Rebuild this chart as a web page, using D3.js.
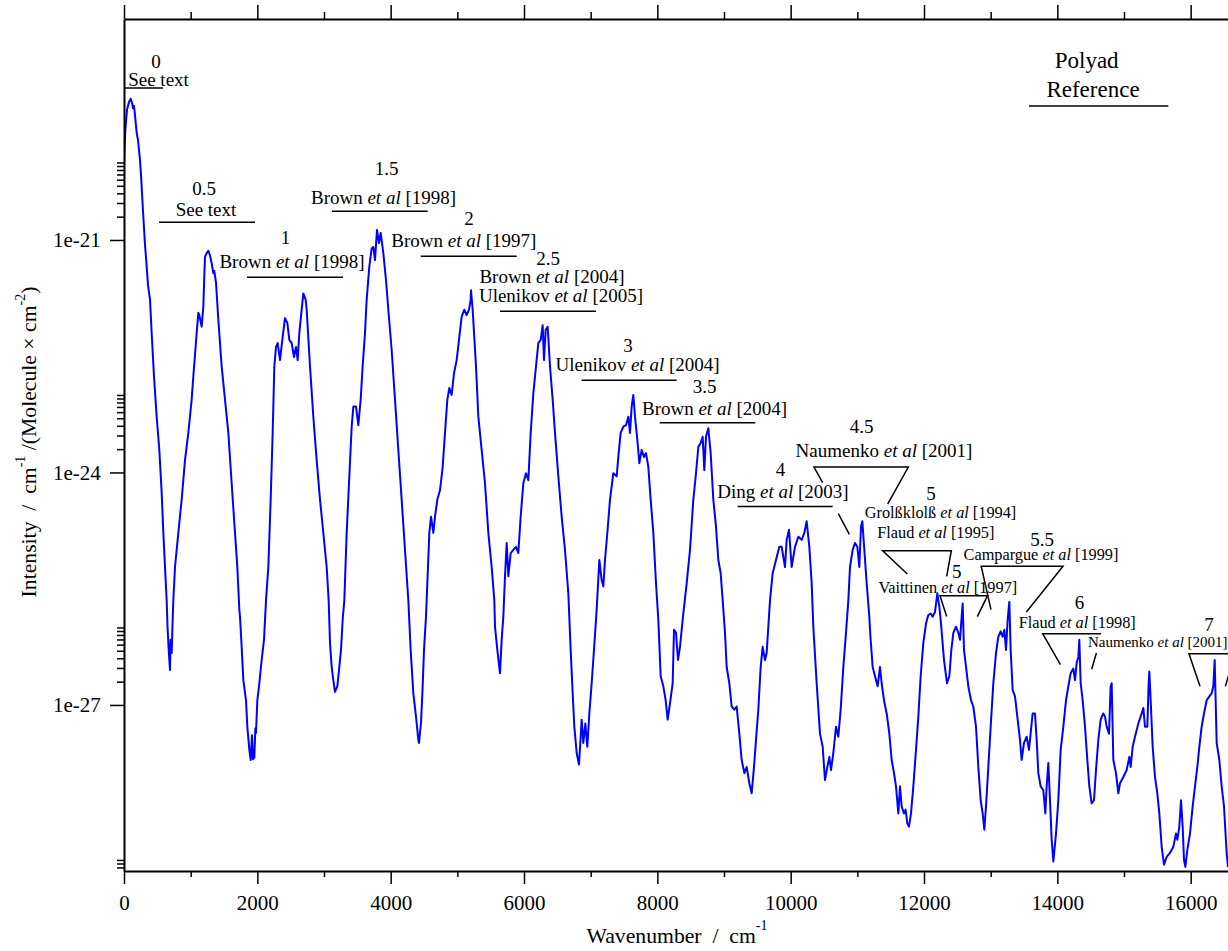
<!DOCTYPE html>
<html>
<head>
<meta charset="utf-8">
<script src="https://cdn.jsdelivr.net/npm/d3@7"></script>
<style>
  html, body { margin: 0; padding: 0; background: #fff; }
  svg { display: block; font-family: "Liberation Serif", "Times New Roman", Times, serif; }
  text { white-space: pre; }
</style>
</head>
<body>
<svg id="chart" width="1228" height="951"></svg>
<script>
// Absorption spectrum: [wavenumber (cm^-1), log10 intensity]
const spectrumPoints = [
  [0,-20.03],[20,-19.58],[45,-19.32],[75,-19.22],[100,-19.18],[120,-19.23],[135,-19.30],[150,-19.27],[165,-19.39],[190,-19.62],
  [210,-19.71],[240,-19.97],[255,-20.16],[290,-20.70],[315,-21.06],[340,-21.34],[360,-21.58],[390,-21.77],[415,-22.20],[450,-22.76],
  [490,-23.28],[530,-23.71],[565,-24.26],[590,-24.78],[615,-25.22],[640,-25.65],[653,-25.99],[665,-26.20],[675,-26.35],[690,-26.55],
  [698,-26.16],[715,-26.33],[730,-25.90],[740,-25.65],[765,-25.22],[815,-24.78],[865,-24.35],[915,-23.84],[965,-23.49],[1015,-23.06],
  [1040,-22.76],[1090,-22.20],[1115,-21.94],[1130,-21.97],[1165,-22.12],[1190,-21.86],[1205,-21.45],[1215,-21.22],[1240,-21.17],[1265,-21.14],
  [1290,-21.20],[1315,-21.30],[1340,-21.43],[1355,-21.40],[1380,-21.55],[1415,-22.03],[1465,-22.63],[1515,-23.06],[1565,-23.49],[1615,-24.14],
  [1665,-24.78],[1700,-25.22],[1730,-25.77],[1740,-25.86],[1765,-26.25],[1790,-26.68],[1830,-26.94],[1850,-27.28],[1880,-27.58],[1900,-27.71],
  [1920,-27.39],[1935,-27.70],[1955,-27.68],[1970,-27.30],[1980,-27.36],[2000,-26.94],[2030,-26.72],[2065,-26.42],[2100,-26.16],[2130,-25.65],
  [2165,-25.22],[2200,-24.35],[2230,-23.49],[2255,-22.63],[2280,-22.38],[2305,-22.33],[2340,-22.55],[2380,-22.25],[2415,-22.01],[2450,-22.07],
  [2480,-22.29],[2515,-22.33],[2550,-22.51],[2580,-22.38],[2605,-22.55],[2630,-22.20],[2665,-21.90],[2690,-21.69],[2725,-21.77],[2740,-21.90],
  [2790,-22.63],[2840,-23.28],[2890,-23.84],[2940,-24.35],[2990,-24.78],[3040,-25.22],[3070,-25.65],[3090,-26.20],[3115,-26.51],[3140,-26.68],
  [3165,-26.83],[3200,-26.76],[3230,-26.51],[3255,-26.29],[3280,-25.90],[3305,-25.65],[3340,-24.78],[3375,-24.14],[3415,-23.41],[3440,-23.15],
  [3480,-23.15],[3515,-23.39],[3550,-23.06],[3580,-22.63],[3615,-22.20],[3640,-21.77],[3680,-21.34],[3715,-21.11],[3740,-21.09],[3765,-21.26],
  [3795,-20.87],[3825,-21.04],[3850,-20.91],[3890,-21.17],[3930,-21.52],[3965,-21.90],[4015,-22.42],[4065,-23.06],[4115,-23.71],[4165,-24.35],
  [4215,-25.00],[4265,-25.65],[4300,-26.29],[4340,-26.85],[4380,-27.15],[4415,-27.45],[4425,-27.49],[4455,-27.23],[4480,-26.76],[4500,-26.29],
  [4530,-25.86],[4580,-24.78],[4605,-24.57],[4640,-24.78],[4665,-24.57],[4700,-24.35],[4740,-24.23],[4780,-23.93],[4815,-23.49],[4850,-23.06],
  [4880,-22.91],[4915,-23.00],[4950,-22.72],[4990,-22.55],[5025,-22.29],[5065,-21.99],[5105,-21.90],[5140,-21.97],[5175,-21.90],[5200,-21.77],
  [5205,-21.65],[5230,-21.90],[5280,-22.63],[5315,-23.28],[5365,-23.71],[5415,-24.14],[5465,-24.78],[5515,-25.22],[5555,-25.65],[5565,-25.99],
  [5600,-26.29],[5640,-26.59],[5665,-26.16],[5690,-25.86],[5715,-25.34],[5740,-24.91],[5765,-25.34],[5800,-25.04],[5840,-25.00],[5880,-24.96],
  [5915,-25.04],[5950,-24.57],[5990,-24.14],[6030,-24.01],[6065,-24.10],[6100,-23.49],[6140,-22.98],[6180,-22.63],[6215,-22.33],[6250,-22.29],
  [6280,-22.10],[6300,-22.55],[6325,-22.16],[6355,-22.12],[6390,-22.63],[6430,-23.06],[6465,-23.49],[6515,-24.05],[6565,-24.57],[6615,-25.00],
  [6665,-25.56],[6700,-26.29],[6730,-26.85],[6755,-27.28],[6790,-27.62],[6825,-27.77],[6865,-27.19],[6890,-27.49],[6920,-27.24],[6950,-27.54],
  [6980,-27.11],[7015,-26.72],[7050,-26.29],[7090,-25.77],[7130,-25.13],[7165,-25.39],[7190,-25.47],[7215,-25.13],[7250,-24.78],[7290,-24.35],
  [7340,-24.01],[7390,-24.05],[7415,-23.80],[7450,-23.49],[7490,-23.41],[7530,-23.39],[7565,-23.28],[7590,-23.49],[7615,-23.15],[7640,-23.00],
  [7665,-23.28],[7700,-23.58],[7730,-23.88],[7765,-23.71],[7800,-23.80],[7830,-23.75],[7865,-23.93],[7900,-24.35],[7940,-24.78],[7980,-25.43],
  [8015,-25.90],[8050,-26.63],[8090,-26.76],[8125,-26.94],[8155,-27.19],[8190,-26.98],[8230,-26.72],[8250,-26.03],[8280,-26.07],[8310,-26.42],
  [8340,-26.25],[8380,-25.90],[8440,-25.43],[8490,-25.00],[8540,-24.35],[8580,-24.01],[8615,-23.67],[8650,-23.62],[8680,-23.54],[8705,-23.97],
  [8730,-23.54],[8765,-23.43],[8800,-23.75],[8840,-24.35],[8880,-24.70],[8915,-25.13],[8950,-25.30],[8980,-25.65],[9015,-26.07],[9040,-26.51],
  [9080,-26.72],[9115,-27.02],[9155,-27.06],[9190,-27.02],[9230,-27.37],[9265,-27.71],[9305,-27.88],[9340,-27.80],[9380,-28.01],[9415,-28.14],
  [9450,-27.80],[9480,-27.45],[9515,-27.06],[9550,-26.51],[9580,-26.25],[9615,-26.42],[9640,-26.33],[9665,-25.99],[9690,-25.65],[9730,-25.30],
  [9780,-25.13],[9830,-24.96],[9865,-24.96],[9915,-25.22],[9940,-24.87],[9975,-24.74],[10015,-25.22],[10065,-24.96],[10115,-24.83],[10165,-24.87],
  [10205,-24.78],[10240,-24.63],[10280,-24.96],[10315,-25.43],[10340,-25.99],[10390,-26.72],[10440,-27.37],[10480,-27.54],[10515,-27.97],[10550,-27.80],
  [10580,-27.67],[10605,-27.84],[10640,-27.62],[10680,-27.28],[10715,-27.41],[10750,-27.06],[10790,-26.51],[10830,-26.07],[10865,-25.65],[10890,-25.22],
  [10930,-25.00],[10965,-24.91],[11000,-24.96],[11030,-25.22],[11055,-24.70],[11075,-24.63],[11105,-25.00],[11140,-25.43],[11180,-25.86],[11195,-26.10],
  [11230,-26.51],[11265,-26.63],[11305,-26.76],[11340,-26.51],[11365,-26.72],[11400,-26.94],[11440,-27.11],[11480,-27.37],[11515,-27.71],[11550,-27.88],
  [11580,-28.05],[11615,-28.40],[11640,-28.05],[11665,-28.31],[11700,-28.40],[11725,-28.35],[11750,-28.53],[11775,-28.57],[11805,-28.40],[11840,-28.05],
  [11880,-27.58],[11915,-27.15],[11950,-26.63],[11990,-26.20],[12030,-25.95],[12065,-25.84],[12100,-25.82],[12130,-25.86],[12165,-25.80],[12200,-25.56],
  [12230,-25.73],[12255,-25.95],[12300,-26.42],[12345,-26.72],[12380,-26.63],[12410,-26.29],[12440,-26.07],[12480,-25.99],[12515,-26.07],[12540,-26.16],
  [12565,-25.86],[12580,-25.69],[12600,-26.29],[12630,-26.51],[12665,-26.76],[12705,-26.94],[12740,-27.02],[12780,-27.28],[12815,-27.80],[12850,-28.23],
  [12880,-28.40],[12905,-28.61],[12930,-28.31],[12965,-27.80],[13000,-27.28],[13040,-26.72],[13080,-26.33],[13115,-26.12],[13150,-26.05],[13180,-26.12],
  [13205,-26.03],[13230,-26.29],[13255,-25.90],[13280,-25.67],[13300,-26.29],[13330,-26.81],[13365,-26.89],[13400,-27.15],[13440,-27.45],[13465,-27.71],
  [13500,-27.49],[13540,-27.41],[13575,-27.58],[13605,-27.32],[13630,-27.11],[13665,-27.11],[13690,-27.45],[13715,-27.88],[13750,-28.05],[13790,-28.10],
  [13820,-28.40],[13840,-28.05],[13865,-27.75],[13890,-28.23],[13915,-28.74],[13940,-29.02],[13980,-28.66],[14015,-28.23],[14050,-27.58],[14090,-27.28],
  [14130,-26.94],[14165,-26.76],[14200,-26.59],[14240,-26.53],[14265,-26.68],[14290,-26.46],[14315,-26.38],[14330,-26.16],[14350,-26.72],[14380,-26.94],
  [14415,-27.28],[14450,-27.71],[14480,-28.05],[14515,-28.27],[14550,-28.23],[14580,-27.84],[14615,-27.45],[14650,-27.19],[14690,-27.11],[14715,-27.15],
  [14740,-27.28],[14775,-27.37],[14800,-26.76],[14815,-26.72],[14840,-27.71],[14880,-27.88],[14915,-28.14],[14940,-28.01],[14990,-27.93],[15040,-27.84],
  [15080,-27.67],[15100,-27.80],[15130,-27.54],[15165,-27.41],[15215,-27.24],[15265,-27.11],[15290,-27.04],[15315,-27.28],[15350,-27.28],[15370,-26.72],
  [15380,-26.57],[15400,-26.94],[15430,-27.54],[15465,-27.93],[15500,-28.14],[15530,-28.40],[15565,-28.83],[15600,-29.06],[15640,-28.96],[15690,-28.91],
  [15740,-28.83],[15780,-28.66],[15800,-28.74],[15830,-28.57],[15855,-28.23],[15880,-28.57],[15900,-29.00],[15920,-29.09],[15950,-28.87],[15990,-28.66],
  [16030,-28.31],[16065,-28.05],[16100,-27.80],[16130,-27.54],[16165,-27.28],[16200,-27.11],[16240,-26.94],[16280,-26.89],[16315,-26.85],[16340,-26.76],
  [16360,-26.42],[16390,-27.49],[16430,-27.71],[16465,-28.05],[16500,-28.31],[16540,-28.91],[16560,-29.09]
];

// Axis ticks
const xMajorTicks = [0, 2000, 4000, 6000, 8000, 10000, 12000, 14000, 16000];
const xMinorTicks = [1000, 3000, 5000, 7000, 9000, 11000, 13000, 15000];
const yMajorTicks = [1e-21, 1e-24, 1e-27];
const yMinorDecades = [-21, -24, -27, -30];
const yMinorMultipliers = [2, 3, 4, 5, 6, 7, 8, 9, 10];

// Polyad wavenumber ranges (cm^-1) and the log10 intensity level each bar sits at
const polyadRanges = [
  { polyad: "0",   from: 0,    to: 585,   level: -19.04 },
  { polyad: "0.5", from: 525,  to: 1965,  level: -20.77 },
  { polyad: "1",   from: 1845, to: 3285,  level: -21.48 },
  { polyad: "1.5", from: 3120, to: 4555,  level: -20.63 },
  { polyad: "2",   from: 4450, to: 5890,  level: -21.21 },
  { polyad: "2.5", from: 5640, to: 7080,  level: -21.92 },
  { polyad: "3",   from: 6865, to: 8290,  level: -22.81 },
  { polyad: "3.5", from: 8035, to: 9470,  level: -23.36 },
  { polyad: "4",   from: 9205, to: 10630, level: -24.44 },
  { polyad: "key", from: 13575, to: 15665, level: -19.27 }
];

// Bracket pointers for the crowded high-wavenumber polyads: [wavenumber, log10 intensity]
const bracketPaths = [
  [[10480, -24.13], [10350, -23.93], [11765, -23.93], [11455, -24.41]],
  [[10715, -24.53], [10880, -24.80]],
  [[11750, -25.31], [11380, -25.01], [12410, -25.01], [12340, -25.34]],
  [[12340, -25.86], [12240, -25.59], [12953, -25.59], [12800, -25.86]],
  [[13005, -25.77], [12858, -25.21], [14085, -25.21], [13536, -25.80]],
  [[14046, -26.48], [13780, -26.08], [14655, -26.08]],
  [[14586, -26.33], [14515, -26.54]],
  [[16140, -26.76], [15975, -26.34], [16665, -26.34], [16520, -26.76]]
];

// Polyad numbers and references (*...* marks italic); anchored at [wavenumber, log10 intensity]
const polyadLabels = [
  { text: "0",   w: 480,   level: -18.78 },
  { text: "0.5", w: 1200,  level: -20.42 },
  { text: "1",   w: 2423,  level: -21.05 },
  { text: "1.5", w: 3938,  level: -20.16 },
  { text: "2",   w: 5175,  level: -20.81 },
  { text: "2.5", w: 6360,  level: -21.32 },
  { text: "3",   w: 7560,  level: -22.44 },
  { text: "3.5", w: 8711,  level: -22.97 },
  { text: "4",   w: 9848,  level: -24.05 },
  { text: "4.5", w: 11066, level: -23.49 },
  { text: "5",   w: 12105, level: -24.35 },
  { text: "5",   w: 12492, level: -25.36 },
  { text: "5.5", w: 13770, level: -24.95 },
  { text: "6",   w: 14333, level: -25.76 },
  { text: "7",   w: 16275, level: -26.05 }
];

const referenceLabels = [
  { text: "See text",                  w: 518,   level: -19.01, kind: "ref" },
  { text: "See text",                  w: 1230,  level: -20.69, kind: "ref" },
  { text: "Brown *et al* [1998]",      w: 2520,  level: -21.36, kind: "ref" },
  { text: "Brown *et al* [1998]",      w: 3893,  level: -20.54, kind: "ref" },
  { text: "Brown *et al* [1997]",      w: 5097,  level: -21.09, kind: "ref" },
  { text: "Brown *et al* [2004]",      w: 6420,  level: -21.56, kind: "ref" },
  { text: "Ulenikov *et al* [2005]",   w: 6555,  level: -21.80, kind: "ref" },
  { text: "Ulenikov *et al* [2004]",   w: 7703,  level: -22.69, kind: "ref" },
  { text: "Brown *et al* [2004]",      w: 8858,  level: -23.26, kind: "ref" },
  { text: "Ding *et al* [2003]",       w: 9885,  level: -24.33, kind: "ref" },
  { text: "Naumenko *et al* [2001]",   w: 11400, level: -23.80, kind: "ref" },
  { text: "Grolßklolß *et al* [1994]", w: 12248, level: -24.59, kind: "small" },
  { text: "Flaud *et al* [1995]",      w: 12177, level: -24.85, kind: "small" },
  { text: "Vaittinen *et al* [1997]",  w: 12357, level: -25.55, kind: "small" },
  { text: "Campargue *et al* [1999]",  w: 13755, level: -25.13, kind: "small" },
  { text: "Flaud *et al* [1998]",      w: 14298, level: -26.01, kind: "small" },
  { text: "Naumenko *et al* [2001]",   w: 15507, level: -26.25, kind: "tiny" },
  { text: "Polyad",                    w: 14440, level: -18.78, kind: "key" },
  { text: "Reference",                 w: 14535, level: -19.16, kind: "key" }
];

const fontSizes = { polyad: 19, ref: 19, small: 16.3, tiny: 15, key: 23 };

// ---- Layout ----
const width = 1228, height = 951;
const plot = { left: 124, right: 1228, top: 19, bottom: 871 };

const svg = d3.select("#chart");
svg.append("rect").attr("width", width).attr("height", height).attr("fill", "#fff");

const x = d3.scaleLinear().domain([0, 16560]).range([plot.left, plot.right]);
const y = d3.scaleLog().domain([7.2e-30, 7.1e-19]).range([plot.bottom, plot.top]);
const lv = v => y(Math.pow(10, v));

svg.append("defs").append("clipPath").attr("id", "plot-clip")
  .append("rect")
  .attr("x", plot.left).attr("y", plot.top)
  .attr("width", plot.right - plot.left).attr("height", plot.bottom - plot.top);

// Spectrum trace
const line = d3.line()
  .x(d => x(d[0]))
  .y(d => lv(d[1]));

svg.append("path")
  .datum(spectrumPoints)
  .attr("clip-path", "url(#plot-clip)")
  .attr("fill", "none")
  .attr("stroke", "#0000ff")
  .attr("stroke-width", 2)
  .attr("stroke-linejoin", "round")
  .attr("d", line);

// ---- Axes ----
function styleAxis(g, fontSize) {
  g.selectAll(".domain").attr("stroke", "#000").attr("stroke-width", 2);
  g.selectAll(".tick line").attr("stroke", "#000").attr("stroke-width", 1.5);
  g.selectAll(".tick text")
    .attr("fill", "#000")
    .style("font-family", '"Liberation Serif", "Times New Roman", serif')
    .style("font-size", fontSize + "px");
  g.attr("font-family", null).attr("font-size", null);
}

const gxB = svg.append("g").attr("transform", `translate(0,${plot.bottom})`)
  .call(d3.axisBottom(x).tickValues(xMajorTicks).tickSize(13).tickSizeOuter(0)
    .tickPadding(11).tickFormat(d3.format("d")));
styleAxis(gxB, 21);

const gxBm = svg.append("g").attr("transform", `translate(0,${plot.bottom})`)
  .call(d3.axisBottom(x).tickValues(xMinorTicks).tickSize(6).tickSizeOuter(0).tickFormat(""));
gxBm.select(".domain").remove();
styleAxis(gxBm, 21);

const gxT = svg.append("g").attr("transform", `translate(0,${plot.top})`)
  .call(d3.axisTop(x).tickValues(xMajorTicks).tickSize(14).tickSizeOuter(0).tickFormat(""));
styleAxis(gxT, 21);

const gxTm = svg.append("g").attr("transform", `translate(0,${plot.top})`)
  .call(d3.axisTop(x).tickValues(xMinorTicks).tickSize(7).tickSizeOuter(0).tickFormat(""));
gxTm.select(".domain").remove();
styleAxis(gxTm, 21);

const [yLo, yHi] = y.domain();
const yMinorValues = yMinorDecades
  .flatMap(e => yMinorMultipliers.map(k => k * Math.pow(10, e)))
  .filter(v => v >= yLo && v <= yHi);

const gy = svg.append("g").attr("transform", `translate(${plot.left},0)`)
  .call(d3.axisLeft(y).tickValues(yMajorTicks).tickSize(14).tickSizeOuter(0)
    .tickPadding(9.3).tickFormat(d => "1e" + Math.round(Math.log10(d))));
styleAxis(gy, 21);

const gym = svg.append("g").attr("transform", `translate(${plot.left},0)`)
  .call(d3.axisLeft(y).tickValues(yMinorValues).tickSize(7).tickSizeOuter(0).tickFormat(""));
gym.select(".domain").remove();
styleAxis(gym, 21);

// Axis titles
const xTitle = svg.append("text")
  .attr("x", (plot.left + plot.right) / 2 + 1)
  .attr("y", 943)
  .attr("text-anchor", "middle")
  .style("font-size", "21.7px");
xTitle.append("tspan").text("Wavenumber  /  cm");
xTitle.append("tspan").attr("dy", -13).style("font-size", "14px").text("-1");

const yTitle = svg.append("text")
  .attr("transform", `translate(35.5,${(plot.top + plot.bottom) / 2 - 3}) rotate(-90)`)
  .attr("text-anchor", "middle")
  .style("font-size", "21.7px");
yTitle.append("tspan").text("Intensity  /  cm");
yTitle.append("tspan").attr("dy", -11).style("font-size", "14px").text("-1");
yTitle.append("tspan").attr("dy", 11).text(" /(Molecule \u00d7 cm");
yTitle.append("tspan").attr("dy", -11).style("font-size", "14px").text("-2");
yTitle.append("tspan").attr("dy", 11).text(")");

// ---- Annotations ----
const ann = svg.append("g").attr("class", "annotations");

ann.selectAll("line.range")
  .data(polyadRanges)
  .join("line")
  .attr("class", "range")
  .attr("x1", d => x(d.from)).attr("x2", d => x(d.to))
  .attr("y1", d => lv(d.level)).attr("y2", d => lv(d.level))
  .attr("stroke", "#000").attr("stroke-width", 1.5);

const bracketLine = d3.line().x(d => x(d[0])).y(d => lv(d[1]));
ann.selectAll("path.bracket")
  .data(bracketPaths)
  .join("path")
  .attr("class", "bracket")
  .attr("clip-path", "url(#plot-clip)")
  .attr("d", bracketLine)
  .attr("fill", "none")
  .attr("stroke", "#000").attr("stroke-width", 1.5);

ann.selectAll("text.polyad")
  .data(polyadLabels)
  .join("text")
  .attr("class", "polyad")
  .attr("x", d => x(d.w)).attr("y", d => lv(d.level))
  .attr("text-anchor", "middle")
  .style("font-size", fontSizes.polyad + "px")
  .text(d => d.text);

ann.selectAll("text.ref")
  .data(referenceLabels)
  .join("text")
  .attr("class", "ref")
  .attr("x", d => x(d.w)).attr("y", d => lv(d.level))
  .attr("text-anchor", "middle")
  .style("font-size", d => fontSizes[d.kind] + "px")
  .each(function (d) {
    const t = d3.select(this);
    d.text.split("*").forEach((part, i) => {
      if (!part) return;
      t.append("tspan").style("font-style", i % 2 ? "italic" : "normal").text(part);
    });
  });
</script>
</body>
</html>
